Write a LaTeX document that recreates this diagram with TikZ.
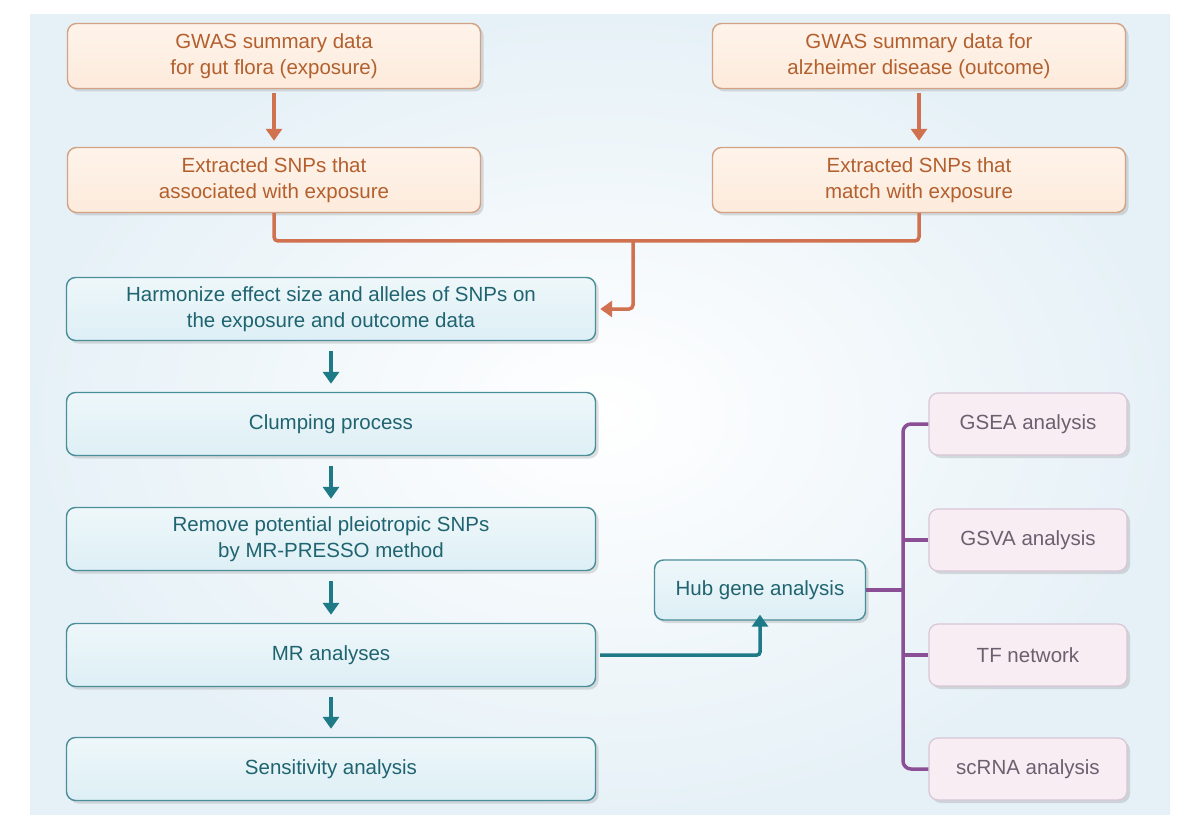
\documentclass[tikz,border=0pt]{standalone}
\usepackage{fontspec}
\setmainfont{Liberation Sans}
\usetikzlibrary{arrows.meta,shadows}
\definecolor{obord}{HTML}{D2A285}\definecolor{ofill}{HTML}{FDEBDC}\definecolor{otext}{HTML}{B3602E}
\definecolor{tbord}{HTML}{4A8E99}\definecolor{tfill}{HTML}{DDEFF5}\definecolor{ttext}{HTML}{1F6470}
\definecolor{pbord}{HTML}{D8C6D6}\definecolor{pfill}{HTML}{F8EDF3}\definecolor{ptext}{HTML}{6E5F70}
\definecolor{oarr}{HTML}{D0714F}\definecolor{tarr}{HTML}{1E7A87}\definecolor{parr}{HTML}{8A4F95}
\definecolor{bgb}{HTML}{E6F1F7}
\begin{document}
\begin{tikzpicture}[x=1pt,y=-1pt,
 box/.style={draw,line width=1.4pt,rounded corners=9pt,align=center,inner sep=0pt,font=\fontsize{20.5}{26}\selectfont,drop shadow={shadow xshift=3pt,shadow yshift=-3pt,opacity=0.25}},
 ob/.style={box,draw=obord,top color=ofill!60!white,bottom color=ofill,text=otext,minimum width=413pt,minimum height=65pt},
 tb/.style={box,draw=tbord,top color=tfill!50!white,bottom color=tfill,text=ttext,minimum width=529pt,minimum height=63pt},
 pb/.style={box,draw=pbord,line width=1.2pt,fill=pfill,text=ptext,minimum width=198pt,minimum height=62pt},
 oa/.style={draw=oarr,line width=3.5pt,-{Triangle[length=12pt,width=16pt]}},
 ta/.style={draw=tarr,line width=3.5pt,-{Triangle[length=12pt,width=16pt]}},
 pl/.style={draw=parr,line width=3.5pt,rounded corners=8pt}]
\useasboundingbox (0,0) rectangle (1200,829);
\fill[white] (0,0) rectangle (1200,829);
\fill[inner color=white,outer color=bgb] (30,15) rectangle (1170,814);
\node[ob] (a1) at (274,56) {GWAS summary data\\for gut flora (exposure)};
\node[ob] (a2) at (919,56) {GWAS summary data for\\alzheimer disease (outcome)};
\node[ob] (b1) at (274,180) {Extracted SNPs that\\associated with exposure};
\node[ob] (b2) at (919,180) {Extracted SNPs that\\match with exposure};
\node[tb] (h) at (331,309) {Harmonize effect size and alleles of SNPs on\\the exposure and outcome data};
\node[tb] (c) at (331,424) {Clumping process};
\node[tb] (r) at (331,539) {Remove potential pleiotropic SNPs\\by MR-PRESSO method};
\node[tb] (mr) at (331,655) {MR analyses};
\node[tb] (s) at (331,769) {Sensitivity analysis};
\node[box,draw=tbord,top color=tfill!50!white,bottom color=tfill,text=ttext,minimum width=211pt,minimum height=60pt] (hub) at (760,590) {Hub gene analysis};
\node[pb] (g1) at (1028,424) {GSEA analysis};
\node[pb] (g2) at (1028,540) {GSVA analysis};
\node[pb] (g3) at (1028,655) {TF network};
\node[pb] (g4) at (1028,769) {scRNA analysis};
\coordinate (j) at (633,241);
\draw[oa] ([yshift=-4pt]a1.south) -- ([yshift=6pt]b1.north);
\draw[oa] ([yshift=-4pt]a2.south) -- ([yshift=6pt]b2.north);
\draw[draw=oarr,line width=3.5pt,rounded corners=4pt] (b1.south) |- (j) -| (b2.south);
\draw[oa,rounded corners=4pt] (j) |- ([xshift=4pt]h.east);
\foreach \u/\v in {h/c,c/r,r/mr,mr/s}
  \draw[ta] ([yshift=-10pt]\u.south) -- ([yshift=8pt]\v.north);
\draw[ta,rounded corners=3pt] ([xshift=4pt]mr.east) -| ([yshift=6pt]hub.south);
\coordinate (v) at (903,590);
\draw[pl] (hub.east) -- (v);
\draw[pl] (g1.west) -| (v) |- (g4.west);
\draw[pl,rounded corners=0pt] (v|-g2.west) -- (g2.west);
\draw[pl,rounded corners=0pt] (v|-g3.west) -- (g3.west);
\end{tikzpicture}
\end{document}
